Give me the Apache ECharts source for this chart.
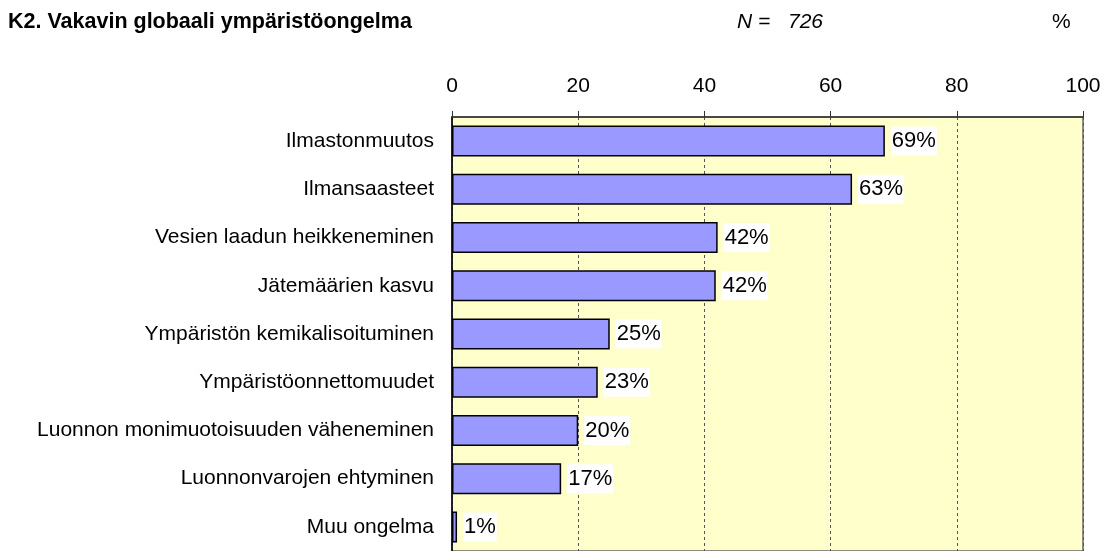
<!DOCTYPE html>
<html>
<head>
<meta charset="utf-8">
<script src="https://cdn.jsdelivr.net/npm/echarts@6/dist/echarts.min.js"></script>
<style>
html,body{margin:0;padding:0;background:#fff;overflow:hidden;}
#chart{width:1105px;height:551px;}
</style>
</head>
<body>
<div id="chart"></div>
<script>
const titleText = 'K2. Vakavin globaali ympäristöongelma';
const nLabel = 'N =';
const nValue = '726';
const unitLabel = '%';
const categories = [
  'Ilmastonmuutos',
  'Ilmansaasteet',
  'Vesien laadun heikkeneminen',
  'Jätemäärien kasvu',
  'Ympäristön kemikalisoituminen',
  'Ympäristöonnettomuudet',
  'Luonnon monimuotoisuuden väheneminen',
  'Luonnonvarojen ehtyminen',
  'Muu ongelma'
];
const values = [68.6, 63.4, 42.1, 41.8, 25.0, 23.1, 20.0, 17.3, 0.8];
const tickValues = [0, 20, 40, 60, 80, 100];

const chart = echarts.init(document.getElementById('chart'), null, {renderer: 'canvas'});
const FONT = 'Liberation Sans, Arial, sans-serif';

chart.setOption({
  animation: false,
  backgroundColor: '#ffffff',
  title: {
    text: titleText,
    left: 8,
    top: 11,
    padding: 0,
    textStyle: {fontFamily: FONT, fontSize: 21.5, fontWeight: 'bold', color: '#000'}
  },
  graphic: [
    {type: 'text', left: 737, top: 12, style: {text: nLabel, font: 'italic 21px ' + FONT, fill: '#000'}},
    {type: 'text', left: 788, top: 12, style: {text: nValue, font: 'italic 21px ' + FONT, fill: '#000'}},
    {type: 'text', left: 1052, top: 12, style: {text: unitLabel, font: '21px ' + FONT, fill: '#000'}}
  ],
  grid: {
    left: 452,
    top: 117,
    width: 631,
    height: 436.5,
    show: true,
    backgroundColor: '#ffffcc',
    borderColor: '#666666',
    borderWidth: 1.5
  },
  xAxis: {
    type: 'value',
    position: 'top',
    min: 0,
    max: 100,
    interval: 20,
    axisLine: {show: true, lineStyle: {color: '#333333', width: 1.5}},
    axisTick: {show: true, length: 6, lineStyle: {color: '#333333', width: 1}},
    axisLabel: {
      margin: 20,
      fontFamily: FONT,
      fontSize: 21,
      color: '#000',
      formatter: function (v) { return tickValues.indexOf(v) >= 0 ? String(v) : ''; }
    },
    splitLine: {show: true, lineStyle: {color: '#555555', type: [3, 3], width: 1}}
  },
  yAxis: {
    type: 'category',
    data: categories,
    inverse: true,
    axisLine: {show: true, lineStyle: {color: '#000', width: 1.5}},
    axisTick: {show: false},
    axisLabel: {margin: 18, fontFamily: FONT, fontSize: 21, color: '#000'}
  },
  series: [{
    type: 'bar',
    data: values,
    barWidth: 31,
    itemStyle: {color: '#9999ff', borderColor: '#000', borderWidth: 1.5},
    label: {
      show: true,
      position: 'right',
      distance: 6,
      fontFamily: FONT,
      fontSize: 22,
      color: '#000',
      backgroundColor: '#ffffff',
      padding: [4, 1, 3, 1],
      formatter: function (p) { return Math.round(p.value) + '%'; }
    }
  }]
});
</script>
</body>
</html>
